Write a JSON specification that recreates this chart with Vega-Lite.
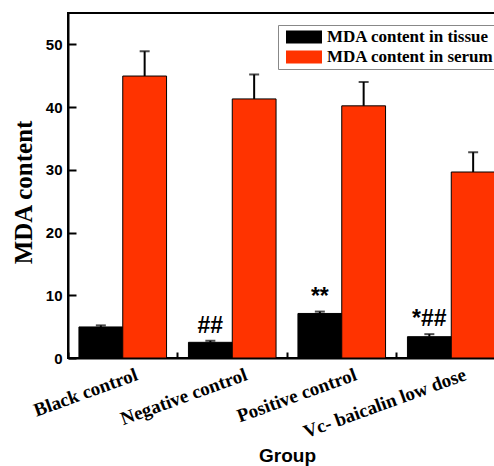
{
  "$schema": "https://vega.github.io/schema/vega-lite/v6.json",
  "autosize": "none",
  "width": 438,
  "height": 345,
  "padding": {"left": 68, "top": 13, "right": -12, "bottom": 108},
  "background": "white",
  "config": {
    "view": {"stroke": "black", "strokeWidth": 2},
    "axis": {"domainColor": "black", "domainWidth": 2, "tickColor": "black", "tickWidth": 2, "grid": false, "labelColor": "black", "titleColor": "black"}
  },
  "data": {
    "values": [
      {"group": "Black control", "series": "MDA content in tissue", "value": 4.95, "hi": 5.2, "sig": ""},
      {"group": "Black control", "series": "MDA content in serum", "value": 44.95, "hi": 48.9, "sig": ""},
      {"group": "Negative control", "series": "MDA content in tissue", "value": 2.5, "hi": 2.75, "sig": "##"},
      {"group": "Negative control", "series": "MDA content in serum", "value": 41.3, "hi": 45.2, "sig": ""},
      {"group": "Positive control", "series": "MDA content in tissue", "value": 7.1, "hi": 7.4, "sig": "**"},
      {"group": "Positive control", "series": "MDA content in serum", "value": 40.2, "hi": 44.0, "sig": ""},
      {"group": "Vc- baicalin low dose", "series": "MDA content in tissue", "value": 3.4, "hi": 3.8, "sig": "*##"},
      {"group": "Vc- baicalin low dose", "series": "MDA content in serum", "value": 29.65, "hi": 32.8, "sig": ""}
    ]
  },
  "encoding": {
    "x": {
      "field": "group", "type": "nominal", "sort": null,
      "scale": {"paddingInner": 0.2, "paddingOuter": 0.1},
      "axis": {
        "title": "Group", "titleFont": "Liberation Sans", "titleFontWeight": "bold", "titleFontSize": 19,
        "titleY": 103, "titleBaseline": "alphabetic",
        "labelAngle": -20, "labelAlign": "right", "labelBaseline": "top", "labelFont": "Liberation Serif", "labelFontWeight": "bold", "labelFontSize": 19,
        "labelPadding": 13, "labelOffset": 11, "labelLimit": 0, "bandPosition": -0.124, "tickSize": -6, "ticks": true
      }
    },
    "xOffset": {"field": "series", "type": "nominal", "sort": ["MDA content in tissue", "MDA content in serum"], "scale": {"paddingInner": 0, "paddingOuter": 0}}
  },
  "layer": [
    {
      "mark": {"type": "bar", "stroke": "black", "strokeWidth": 1},
      "encoding": {
        "y": {
          "field": "value", "type": "quantitative", "scale": {"domain": [0, 55], "nice": false},
          "axis": {
            "title": "MDA content", "titleFont": "Liberation Serif", "titleFontWeight": "bold", "titleFontSize": 25,
            "titleX": -45, "titleY": 179, "titleBaseline": "middle", "titleAlign": "center", "titleAngle": -90,
            "values": [0, 10, 20, 30, 40, 50], "tickSize": -8, "labelPadding": 14,
            "labelFont": "Liberation Sans", "labelFontWeight": "bold", "labelFontSize": 15
          }
        },
        "color": {
          "field": "series", "type": "nominal", "sort": ["MDA content in tissue", "MDA content in serum"],
          "scale": {"range": ["#000000", "#FF3300"]},
          "legend": {
            "title": null, "orient": "none", "legendX": 210, "legendY": 12,
            "symbolType": "M-1,-0.36H1V0.36H-1Z", "symbolSize": 1296, "symbolStrokeWidth": 0, "symbolOffset": 6,
            "clipHeight": 20, "rowPadding": 0,
            "labelFont": "Liberation Serif", "labelFontWeight": "bold", "labelFontSize": 17, "labelColor": "black",
            "labelOffset": 5, "labelLimit": 0, "padding": 2,
            "strokeColor": "#888888", "fillColor": "white"
          }
        }
      }
    },
    {
      "mark": {"type": "rule", "strokeWidth": 2, "color": "black"},
      "encoding": {"y": {"field": "value", "type": "quantitative"}, "y2": {"field": "hi"}}
    },
    {
      "mark": {"type": "tick", "thickness": 2, "size": 10, "color": "black"},
      "encoding": {"y": {"field": "hi", "type": "quantitative"}}
    },
    {
      "mark": {"type": "text", "font": "Liberation Sans", "fontWeight": "bold", "fontSize": 23, "baseline": "alphabetic", "dy": -8, "color": "black"},
      "encoding": {"y": {"field": "hi", "type": "quantitative"}, "text": {"field": "sig"}}
    }
  ]
}
